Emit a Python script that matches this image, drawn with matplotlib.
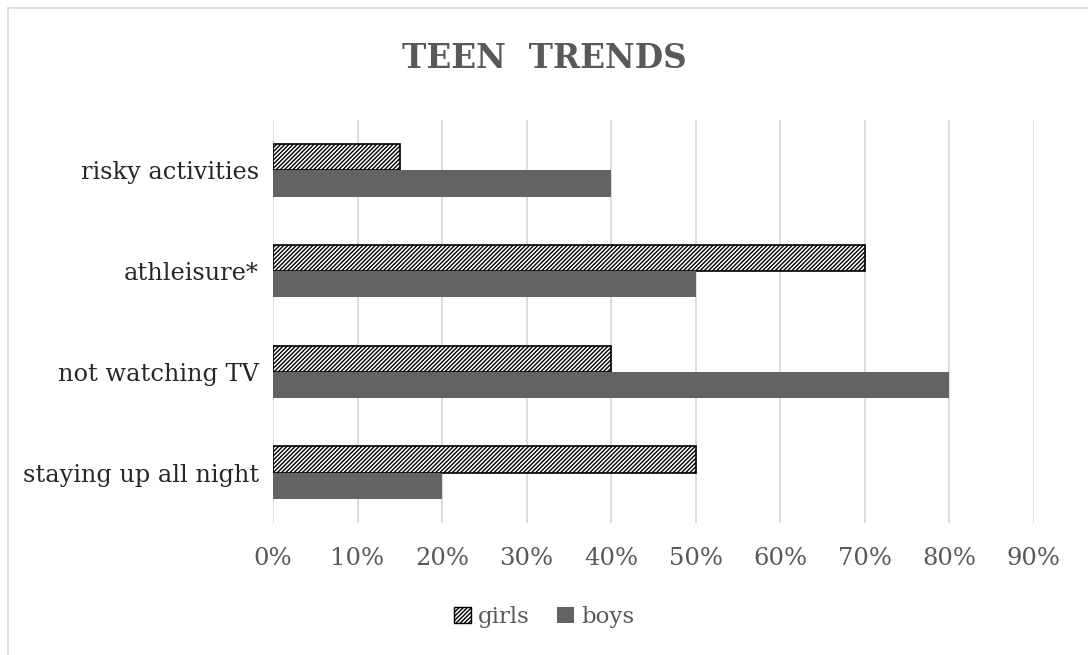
import matplotlib
matplotlib.use("Agg")
import matplotlib.pyplot as plt
from matplotlib.lines import Line2D
from matplotlib.patches import Patch
import numpy as np

categories = ["staying up all night", "not watching TV", "athleisure*", "risky activities"]
girls = [0.50, 0.40, 0.70, 0.15]
boys = [0.20, 0.80, 0.50, 0.40]
tick_vals = [0, 0.1, 0.2, 0.3, 0.4, 0.5, 0.6, 0.7, 0.8, 0.9]
tick_labels = ["0%", "10%", "20%", "30%", "40%", "50%", "60%", "70%", "80%", "90%"]

W, H = 1088, 655
fig = plt.figure(figsize=(W / 100, H / 100), dpi=100)
plt.rcParams['hatch.linewidth'] = 1.0

font = "DejaVu Serif"
ax = fig.add_axes([273 / W, 1 - 523 / H, (1034 - 273) / W, (523 - 120) / H])

y = np.arange(len(categories))
h = 0.26
ax.barh(y + h / 2, girls, height=h, color="white", edgecolor="black", hatch="////////", linewidth=1.2, label="girls", zorder=3)
ax.barh(y - h / 2, boys, height=h, color="#636363", edgecolor="none", label="boys", zorder=3)

ax.set_xlim(0, 0.9)
ax.set_ylim(-0.5, len(categories) - 0.5)
ax.set_xticks(tick_vals)
ax.set_xticklabels(tick_labels, family=font, fontsize=17.5, color="#595959")
ax.set_yticks(y)
ax.set_yticklabels(categories, family=font, fontsize=17.3, color="#262626")
ax.tick_params(axis="y", length=0, pad=10)
ax.tick_params(axis="x", length=0, pad=17)
ax.grid(axis="x", color="#d9d9d9", linewidth=1.3, zorder=0)
for s in ax.spines.values():
    s.set_visible(False)

fig.text(0.5, 1 - 58 / H, "TEEN  TRENDS", ha="center", va="center", family=font, fontweight="bold", fontsize=23.5, color="#595959")

handles = [Patch(facecolor="white", edgecolor="black", hatch="////////", label="girls"),
           Patch(facecolor="#636363", edgecolor="none", label="boys")]
leg = fig.legend(handles=handles, loc="center", bbox_to_anchor=(0.5, 1 - 617 / H), ncol=2, frameon=False,
                 prop={"family": font, "size": 16.5}, handlelength=0.75, handleheight=0.75, handletextpad=0.3, columnspacing=1.2)
for t in leg.get_texts():
    t.set_color("#595959")

# figure border (top and left visible)
fig.add_artist(Line2D([8 / W, 8 / W], [0, 1 - 8 / H], color="#d9d9d9", linewidth=1.2, transform=fig.transFigure))
fig.add_artist(Line2D([8 / W, 1], [1 - 8 / H, 1 - 8 / H], color="#d9d9d9", linewidth=1.2, transform=fig.transFigure))

fig.savefig("out.png", dpi=100)
